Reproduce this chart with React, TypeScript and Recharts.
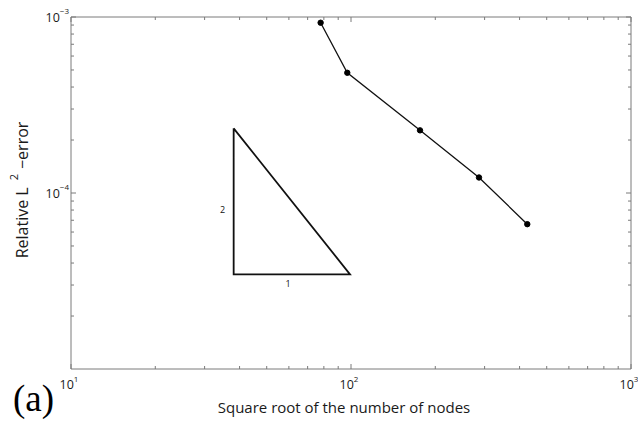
import React from 'react';
import { LineChart, Line, XAxis, YAxis, ReferenceDot, Customized } from 'recharts';

// Convergence data
const sqrtNodes = [77.9, 97.0, 176.4, 286.5, 426.2];
const relError = [9.28e-4, 4.82e-4, 2.27e-4, 1.225e-4, 6.65e-5];

// Slope triangle (rise 2 : run 1)
const triangleX = [38.1, 38.1, 99.2, 38.1];
const triangleY = [2.33e-4, 3.45e-5, 3.45e-5, 2.33e-4];
const riseLabel = { x: 34.8, y: 7.98e-5, text: '2' };
const runLabel = { x: 59.6, y: 3.03e-5, text: '1' };

// Axis ticks
const xDomain = [10, 1000];
const yDomain = [1e-5, 1e-3];
const xMajorTicks = [10, 100, 1000];
const xMinorTicks = [20, 30, 40, 50, 60, 70, 80, 90, 200, 300, 400, 500, 600, 700, 800, 900];
const yMajorTicks = [1e-4, 1e-3];
const yMinorTicks = [2e-5, 3e-5, 4e-5, 5e-5, 6e-5, 7e-5, 8e-5, 9e-5, 2e-4, 3e-4, 4e-4, 5e-4, 6e-4, 7e-4, 8e-4, 9e-4];

const xTitle = 'Square root of the number of nodes';
const yTitleMain = 'Relative L';
const yTitleSup = '2';
const yTitleEnd = '\u2212error';
const panelLabel = '(a)';

const seriesData = sqrtNodes.map((x, i) => ({ x, y: relError[i] }));
const triangleData = triangleX.map((x, i) => ({ x, y: triangleY[i] }));
const xTicks = [...xMajorTicks, ...xMinorTicks];
const yTicks = [...yMajorTicks, ...yMinorTicks];

const AXIS = '#7a7a7a';
const TEXT = '#1a1a1a';
const FONT = '"Open Sans", "Noto Sans", sans-serif';

const isMajor = (v: number) => Math.abs(Math.log10(v) - Math.round(Math.log10(v))) < 1e-6;
const expOf = (v: number) => Math.round(Math.log10(v));
const expText = (e: number) => (e < 0 ? '\u2212' + Math.abs(e) : String(e));

const BottomTick = (p: any) => {
  const { x, y, payload } = p;
  const v = payload.value;
  const major = isMajor(v);
  return (
    <g>
      <line x1={x} y1={y} x2={x} y2={y - (major ? 5 : 3)} stroke={AXIS} strokeWidth={1} />
      {major && (
        <text x={x - 2} y={y + 20} textAnchor="middle" fontSize={12.5} fill={TEXT} fontFamily={FONT}>
          10<tspan dy={-7} fontSize={8}>{expText(expOf(v))}</tspan>
        </text>
      )}
    </g>
  );
};

const TopTick = (p: any) => {
  const { x, y, payload } = p;
  const major = isMajor(payload.value);
  return <line x1={x} y1={y} x2={x} y2={y + (major ? 5 : 3)} stroke={AXIS} strokeWidth={1} />;
};

const LeftTick = (p: any) => {
  const { x, y, payload } = p;
  const v = payload.value;
  const major = isMajor(v);
  return (
    <g>
      <line x1={x} y1={y} x2={x + (major ? 5 : 3)} y2={y} stroke={AXIS} strokeWidth={1} />
      {major && (
        <text x={x - 2} y={y + 5} textAnchor="end" fontSize={12.5} fill={TEXT} fontFamily={FONT}>
          10<tspan dy={-8} fontSize={8}>{expText(expOf(v))}</tspan>
        </text>
      )}
    </g>
  );
};

const RightTick = (p: any) => {
  const { x, y, payload } = p;
  const major = isMajor(payload.value);
  return <line x1={x} y1={y} x2={x - (major ? 5 : 3)} y2={y} stroke={AXIS} strokeWidth={1} />;
};

const Titles = () => (
  <g>
    <text x={344} y={413} textAnchor="middle" fontSize={15} fill={TEXT} fontFamily={FONT}>
      {xTitle}
    </text>
    <text transform="rotate(-90)" x={-190} y={28} textAnchor="middle" fontSize={16} fill={TEXT} fontFamily={FONT}>
      {yTitleMain}
      <tspan dx={7} dy={-10} fontSize={11}>{yTitleSup}</tspan>
      <tspan dx={5} dy={10}>{yTitleEnd}</tspan>
    </text>
    <text x={13} y={411} fontSize={37} fill="#000" fontFamily='"Liberation Serif", "DejaVu Serif", serif'>
      {panelLabel}
    </text>
  </g>
);

const SmallLabel = (text: string) => (p: any) => (
  <text x={p.cx} y={p.cy + 3} textAnchor="middle" fontSize={9} fill="#111" stroke="none" fontFamily={FONT}>
    {text}
  </text>
);

export default function App() {
  return (
    <div style={{ position: 'absolute', left: 0, top: 0, background: '#fff' }}>
      <LineChart width={638} height={421} margin={{ top: 0, right: 0, bottom: 0, left: 0 }}>
        <XAxis
          dataKey="x"
          type="number"
          scale="log"
          domain={xDomain}
          allowDataOverflow
          ticks={xTicks}
          interval={0}
          tick={BottomTick}
          tickLine={false}
          tickSize={0}
          tickMargin={0}
          height={52}
          axisLine={{ stroke: AXIS }}
        />
        <XAxis
          xAxisId="top"
          orientation="top"
          dataKey="x"
          type="number"
          scale="log"
          domain={xDomain}
          allowDataOverflow
          ticks={xTicks}
          interval={0}
          tick={TopTick}
          tickLine={false}
          tickSize={0}
          tickMargin={0}
          height={17}
          axisLine={{ stroke: AXIS }}
        />
        <YAxis
          type="number"
          scale="log"
          domain={yDomain}
          allowDataOverflow
          ticks={yTicks}
          interval={0}
          tick={LeftTick}
          tickLine={false}
          tickSize={0}
          tickMargin={0}
          width={71}
          axisLine={{ stroke: AXIS }}
        />
        <YAxis
          yAxisId="right"
          orientation="right"
          type="number"
          scale="log"
          domain={yDomain}
          allowDataOverflow
          ticks={yTicks}
          interval={0}
          tick={RightTick}
          tickLine={false}
          tickSize={0}
          tickMargin={0}
          width={7}
          axisLine={{ stroke: AXIS }}
        />
        <Line
          data={triangleData}
          dataKey="y"
          type="linear"
          stroke="#111"
          strokeWidth={1.8}
          dot={false}
          activeDot={false}
          isAnimationActive={false}
        />
        <Line
          data={seriesData}
          dataKey="y"
          type="linear"
          stroke="#111"
          strokeWidth={1.3}
          dot={{ r: 2.7, fill: '#000', stroke: '#000', strokeWidth: 1 }}
          activeDot={false}
          isAnimationActive={false}
        />
        <ReferenceDot x={riseLabel.x} y={riseLabel.y} r={0} shape={SmallLabel(riseLabel.text)} />
        <ReferenceDot x={runLabel.x} y={runLabel.y} r={0} shape={SmallLabel(runLabel.text)} />
        <Customized component={Titles} />
      </LineChart>
    </div>
  );
}
